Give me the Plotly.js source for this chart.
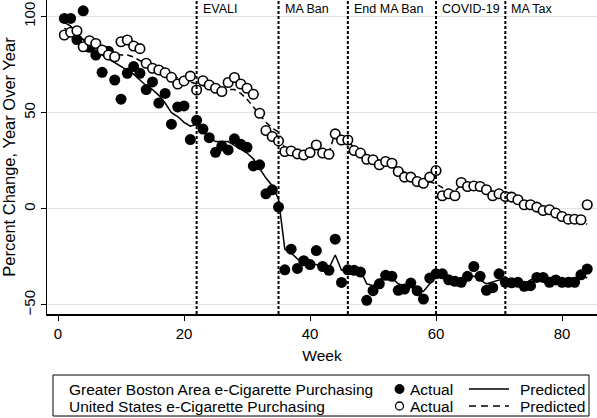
<!DOCTYPE html>
<html>
<head>
<meta charset="utf-8">
<script src="https://cdn.plot.ly/plotly-3.0.1.min.js"></script>
<style>html,body{margin:0;padding:0;background:#fff;}#chart{width:597px;height:418px;}</style>
</head>
<body>
<div id="chart"></div>
<script>
const weeks = [1,2,3,4,5,6,7,8,9,10,11,12,13,14,15,16,17,18,19,20,21,22,23,24,25,26,27,28,29,30,31,32,33,34,35,36,37,38,39,40,41,42,43,44,45,46,47,48,49,50,51,52,53,54,55,56,57,58,59,60,61,62,63,64,65,66,67,68,69,70,71,72,73,74,75,76,77,78,79,80,81,82,83,84];

const bostonActual = [99,99,88,103,84,80,71,82,67,57,70.5,74,70.5,62,66,55,60,44,53,53.5,36,46,41.5,37,29.4,32.7,30.6,36.4,33.6,32,22.3,22.9,7.8,9.9,0.9,-31.7,-21,-31,-27,-29,-21.7,-30,-32,-15.8,-38.3,-31.7,-32,-32.9,-47.6,-42.6,-39,-34.6,-35.1,-42.4,-41.7,-38.6,-42.6,-46.9,-36,-33.8,-33.8,-36.9,-37.7,-38.2,-35.1,-30,-35.1,-42.4,-41,-33.8,-38.2,-38.5,-38.2,-40.3,-40,-35.7,-35.7,-38.2,-37,-38.2,-38.2,-38.2,-34.3,-31.3];

const bostonPredicted = [97,95,91,88,85,82,80,78,76,74,72,70,67,64,62,59,55,50,48,45,43,44,40,37,35,35,35,33,31,29,26,21,16,12,5,-21,-23,-26,-28,-29,-29,-30,-31,-24,-32,-32,-32,-32,-39,-40,-37,-35,-36,-39,-40,-40,-42,-43,-39,-35,-35,-35,-36,-37,-36,-35,-37,-39,-38,-37,-37,-37,-38,-39,-37,-36,-35,-36,-36,-37,-36,-36,-34,-36];

const usActual = [90.4,91.8,92.6,84.3,87.4,86,82.6,80,79.1,86.9,87.8,84.7,83.3,75.7,73.1,72.2,70.8,68.4,64.9,66.5,69,61.8,66.6,64.4,62.7,61,65.7,68.3,64.9,62.7,59.6,49.7,40.7,37.6,35.3,29.8,30.1,28.6,28,29.3,33.2,29,28.4,39,35.8,35.8,30.3,29,25.8,25.5,22.9,24.6,23.7,19.4,16.5,16.5,14.2,13.3,16.5,19.9,6.8,7.8,6.8,13.7,11.6,11.9,11.6,9.9,6.8,7.8,6.4,6.1,4.7,2.1,2.1,0.9,-0.9,-0.5,-2.2,-4,-5.4,-5.4,-5.7,2.1];

const usPredicted = [94,92,90,88,86,84,82,81,81,80,80,79,77,76,75,74,72,70,68,67,66,65,64,63,62,62,62,62,60,57,53,49,45,42,40,31,30,29,29,29,31,30,29,40,37,35,32,30,28,27,25,24,23,21,19,18,16,15,14,13,11,10,9,13,12,11.5,11,10,9,8,7.5,6.5,5,3.5,2.5,1.5,0.5,-0.5,-2,-3,-4.5,-5.5,-6.5,-8];

const eventWeeks = [22,35,46,60,71];
const eventLabels = ["EVALI","MA Ban","End MA Ban","COVID-19","MA Tax"];

const xTicks = [0,20,40,60,80];
const yTicks = [-50,0,50,100];

const seriesLabels = ["Greater Boston Area e-Cigarette Purchasing","United States e-Cigarette Purchasing"];
const actualLabel = "Actual";
const predictedLabel = "Predicted";

const FONT = "Liberation Sans, Arial, Helvetica, sans-serif";
const W = 597, H = 418;
const M = {l:47, r:0, t:0, b:104};
const PW = W - M.l - M.r, PH = H - M.t - M.b;
const px = v => (v - M.l) / PW;
const py = v => (M.t + PH - v) / PH;

const traces = [
  {x: weeks, y: bostonPredicted, type:'scatter', mode:'lines', line:{color:'#000', width:1.5}, showlegend:false, hoverinfo:'skip'},
  {x: weeks, y: usPredicted, type:'scatter', mode:'lines', line:{color:'#000', width:1.5, dash:'6px,4px'}, showlegend:false, hoverinfo:'skip'},
  {x: weeks, y: bostonActual, type:'scatter', mode:'markers', marker:{color:'#000', size:11, line:{width:0}}, showlegend:false},
  {x: weeks, y: usActual, type:'scatter', mode:'markers', marker:{color:'#fff', size:9.5, symbol:'circle', line:{color:'#000', width:1.6}}, showlegend:false}
];

const shapes = eventWeeks.map(w => ({
  type:'line', xref:'x', yref:'paper', x0:w, x1:w, y0:0, y1:1,
  line:{color:'#000', width:2, dash:'3px,2px'}
}));

const annotations = eventWeeks.map((w,i) => ({
  x:w, y:1, xref:'x', yref:'paper', xanchor:'left', yanchor:'top',
  xshift:4, yshift:0, text:eventLabels[i], showarrow:false,
  font:{family:FONT, size:12.5, color:'#000'}
}));

// legend box
shapes.push({type:'rect', xref:'paper', yref:'paper', x0:px(53), x1:px(589), y0:py(375), y1:py(416), line:{color:'#000', width:1}, fillcolor:'rgba(0,0,0,0)'});
const rowY = [389, 406];
rowY.forEach((ry, i) => {
  annotations.push({x:px(67), y:py(ry), xref:'paper', yref:'paper', xanchor:'left', yanchor:'middle', text:seriesLabels[i], showarrow:false, font:{family:FONT, size:15.5, color:'#000'}});
  annotations.push({x:px(408), y:py(ry), xref:'paper', yref:'paper', xanchor:'left', yanchor:'middle', text:actualLabel, showarrow:false, font:{family:FONT, size:15.5, color:'#000'}});
  annotations.push({x:px(518), y:py(ry), xref:'paper', yref:'paper', xanchor:'left', yanchor:'middle', text:predictedLabel, showarrow:false, font:{family:FONT, size:15.5, color:'#000'}});
  shapes.push({type:'line', xref:'paper', yref:'paper', x0:px(469), x1:px(509), y0:py(ry), y1:py(ry), line:{color:'#000', width:1.5, dash: i===0 ? 'solid' : '7px,5px'}});
});
shapes.push({type:'circle', xref:'paper', yref:'paper', x0:px(395), x1:px(404), y0:py(393.5), y1:py(384.5), fillcolor:'#000', line:{color:'#000', width:1}});
shapes.push({type:'circle', xref:'paper', yref:'paper', x0:px(395.5), x1:px(403.5), y0:py(410), y1:py(402), fillcolor:'#fff', line:{color:'#000', width:1.3}});

const layout = {
  width:W, height:H,
  margin:M,
  paper_bgcolor:'#fff', plot_bgcolor:'#fff',
  showlegend:false,
  font:{family:FONT, size:15, color:'#000'},
  xaxis:{
    range:[-1.75, 85.55], tickvals:xTicks, ticks:'outside', ticklen:5, tickwidth:1, tickcolor:'#000',
    showline:true, linecolor:'#000', linewidth:1.5, showgrid:false, zeroline:false,
    tickfont:{family:FONT, size:15}, title:{text:'Week', font:{family:FONT, size:15.5}, standoff:9}
  },
  yaxis:{
    range:[-54.7, 108.6], tickvals:yTicks, ticks:'outside', ticklen:5, tickwidth:1, tickcolor:'#000',
    showline:true, linecolor:'#000', linewidth:1.5, showgrid:true, gridcolor:'#e3e3e3', gridwidth:1, zeroline:false,
    tickangle:-90, tickfont:{family:FONT, size:15},
    title:{text:'Percent Change, Year Over Year', font:{family:FONT, size:16.5}, standoff:4}
  },
  shapes:shapes,
  annotations:annotations
};

Plotly.newPlot('chart', traces, layout, {staticPlot:true, displayModeBar:false});
</script>
</body>
</html>
